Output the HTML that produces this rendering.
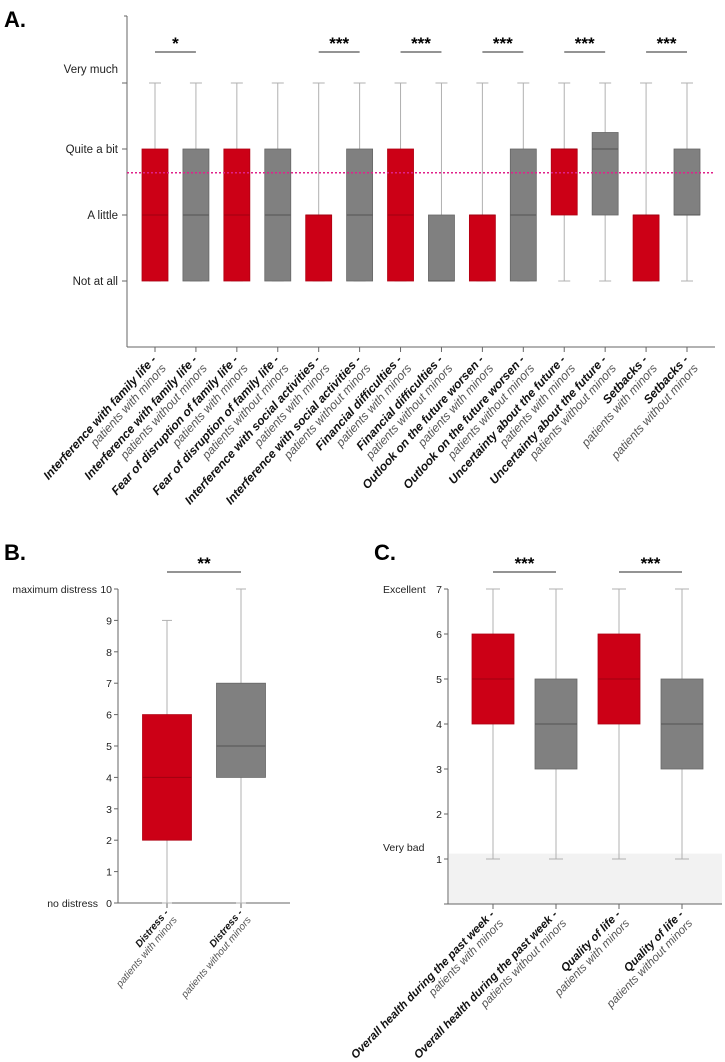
<!DOCTYPE html>
<html><head><meta charset="utf-8"><style>
html,body{margin:0;padding:0;background:#fff;}
svg{display:block;font-family:"Liberation Sans",sans-serif;}
</style></head><body>
<svg id="fig" width="725" height="1062" viewBox="0 0 725 1062" xmlns="http://www.w3.org/2000/svg">
<text x="4" y="27" font-size="22" font-weight="bold">A.</text>
<text x="4" y="560" font-size="22" font-weight="bold">B.</text>
<text x="374" y="560" font-size="22" font-weight="bold">C.</text>
</svg>
<script>
// ---- Panel A data ----
const catsA = ["Interference with family life -","Interference with family life -","Fear of disruption of family life -","Fear of disruption of family life -","Interference with social activities -","Interference with social activities -","Financial difficulties -","Financial difficulties -","Outlook on the future worsen -","Outlook on the future worsen -","Uncertainty about the future -","Uncertainty about the future -","Setbacks -","Setbacks -"];
const groupsA = ["patients with minors","patients without minors","patients with minors","patients without minors","patients with minors","patients without minors","patients with minors","patients without minors","patients with minors","patients without minors","patients with minors","patients without minors","patients with minors","patients without minors"];
const minA = [0,0,0,0,0,0,0,0,0,0,0,0,0,0];
const q1A  = [0,0,0,0,0,0,0,0,0,0,1,1,0,1];
const medA = [1,1,1,1,1,1,1,0,1,1,2,2,1,1];
const q3A  = [2,2,2,2,1,2,2,1,1,2,2,2.25,1,2];
const maxA = [3,3,3,3,3,3,3,3,3,3,3,3,3,3];
const tickLabelsA = ["Not at all","A little","Quite a bit","Very much"];
const refLineA = 1.64;
const sigPairsA = [0,4,6,8,10,12];
const sigTextA = ["*","***","***","***","***","***"];
// ---- Panel B data ----
const catsB = ["Distress -","Distress -"];
const groupsB = ["patients with minors","patients without minors"];
const minB=[0,0], q1B=[2,4], medB=[4,5], q3B=[6,7], maxB=[9,10];
const ticksB=[0,1,2,3,4,5,6,7,8,9,10];
// ---- Panel C data ----
const catsC = ["Overall health during the past week -","Overall health during the past week -","Quality of life -","Quality of life -"];
const groupsC = ["patients with minors","patients without minors","patients with minors","patients without minors"];
const minC=[1,1,1,1], q1C=[4,3,4,3], medC=[5,4,5,4], q3C=[6,5,6,5], maxC=[7,7,7,7];
const ticksC=[1,2,3,4,5,6,7];
const sigPairsC=[0,2];

const svg=document.getElementById('fig');
const NS="http://www.w3.org/2000/svg";
function mk(tag,attrs,parent){const e=document.createElementNS(NS,tag);for(const k in attrs)e.setAttribute(k,attrs[k]);(parent||svg).appendChild(e);return e;}
const RED="#cc0016", GRAY="#808080";

function drawBoxes(name,x,y,w,mins,q1s,meds,q3s,maxs,capW){
  for(let i=0;i<q1s.length;i++){
    const cx=x(i), col=(i%2===0)?RED:GRAY;
    const g=mk('g',{});
    
    
    mk('line',{x1:cx,x2:cx,y1:y(maxs[i]),y2:y(mins[i]),stroke:'#b0b0b0','stroke-width':1},g);
    mk('line',{x1:cx-capW/2,x2:cx+capW/2,y1:y(maxs[i]),y2:y(maxs[i]),stroke:'#b0b0b0','stroke-width':1},g);
    mk('line',{x1:cx-capW/2,x2:cx+capW/2,y1:y(mins[i]),y2:y(mins[i]),stroke:'#b0b0b0','stroke-width':1},g);
    mk('rect',{x:cx-w/2,y:y(q3s[i]),width:w,height:Math.max(0.5,y(q1s[i])-y(q3s[i])),fill:col,stroke:(i%2===0)?'#b00012':'#666','stroke-width':0.8},g);
    mk('line',{x1:cx-w/2,x2:cx+w/2,y1:y(meds[i]),y2:y(meds[i]),stroke:(i%2===0)?'#a00010':'#555','stroke-width':1},g);
  }
}
function drawLabels(name,x,yTop,cats,groups,fs,ang){
  for(let i=0;i<cats.length;i++){
    const cx=x(i)+2, cy=yTop;
    const t=mk('text',{transform:`translate(${cx},${cy}) rotate(${ang})`,'text-anchor':'end','font-size':fs});
    
    
    const a=mk('tspan',{x:0,dy:0,'font-weight':'bold','font-style':'italic',fill:'#111'},t);a.textContent=cats[i];
    const b=mk('tspan',{x:0,dy:fs+1,'font-style':'italic',fill:'#555'},t);b.textContent=groups[i];
  }
}
function sigBar(name,x1,x2,y,txt){
  const g=mk('g',{});
  
  
  mk('line',{x1:x1,x2:x2,y1:y,y2:y,stroke:'#555','stroke-width':1.2},g);
  const t=mk('text',{x:(x1+x2)/2,y:y-3,'text-anchor':'middle','font-size':17,'font-weight':'bold'},g);t.textContent=txt;
}

// ---- Panel A ----
(function(){
  const x=i=>155+i*(687-155)/13;
  const y=v=>281-v*66;
  const ax=mk('g',{});
  
  
  mk('line',{x1:127,x2:127,y1:16,y2:347,stroke:'#666','stroke-width':1},ax);
  mk('line',{x1:127,x2:715,y1:347,y2:347,stroke:'#666','stroke-width':1},ax);
  mk('line',{x1:124,x2:127,y1:16,y2:16,stroke:'#666'},ax);
  for(let k=0;k<tickLabelsA.length;k++){
    mk('line',{x1:122,x2:127,y1:y(k),y2:y(k),stroke:'#666'},ax);
    const ty=(k===3)?y(k)-10:y(k)+4;
    const t=mk('text',{x:118,y:ty,'text-anchor':'end','font-size':11.5,fill:'#222'},ax);
    
    
    t.textContent=tickLabelsA[k];
  }
  for(let i=0;i<catsA.length;i++) mk('line',{x1:x(i),x2:x(i),y1:347,y2:352,stroke:'#666'},ax);
  drawBoxes('panel-a',x,y,26,minA,q1A,medA,q3A,maxA,12);
  const rl=mk('line',{x1:127,x2:715,y1:y(refLineA),y2:y(refLineA),stroke:'#e0208a','stroke-width':1.6,'stroke-dasharray':'2,2'});
  
  
  sigPairsA.forEach((p,k)=>sigBar('panel-a-significance-'+(k+1),x(p),x(p+1),52,sigTextA[k]));
  drawLabels('panel-a-x',x,360,catsA,groupsA,12,-48);
})();

// ---- Panel B ----
(function(){
  const x=i=>167+i*74;
  const y=v=>903-v*31.4;
  const ax=mk('g',{});
  
  
  mk('line',{x1:118,x2:118,y1:y(10),y2:903,stroke:'#666'},ax);
  mk('line',{x1:114,x2:290,y1:903,y2:903,stroke:'#666'},ax);
  ticksB.forEach(v=>{
    mk('line',{x1:114,x2:118,y1:y(v),y2:y(v),stroke:'#666'},ax);
    const t=mk('text',{x:112,y:y(v)+4,'text-anchor':'end','font-size':10.5,fill:'#222'},ax);
    t.textContent=v;
  });
  const t1=mk('text',{x:97,y:y(10)+4,'text-anchor':'end','font-size':10.5,fill:'#222'},ax);t1.textContent='maximum distress';
  const t2=mk('text',{x:98,y:y(0)+4,'text-anchor':'end','font-size':10.5,fill:'#222'},ax);t2.textContent='no distress';
  for(let i=0;i<catsB.length;i++) mk('line',{x1:x(i),x2:x(i),y1:903,y2:908,stroke:'#666'},ax);
  drawBoxes('panel-b',x,y,49,minB,q1B,medB,q3B,maxB,10);
  sigBar('panel-b-significance',x(0),x(1),572,'**');
  drawLabels('panel-b-x',x,913,catsB,groupsB,10,-50);
})();

// ---- Panel C ----
(function(){
  const x=i=>493+i*63;
  const y=v=>904-v*45;
  const bg=mk('rect',{x:449,y:y(1.12),width:273,height:904-y(1.12),fill:'#f2f2f2'});
  
  
  const ax=mk('g',{});
  
  
  mk('line',{x1:448,x2:448,y1:y(7),y2:904,stroke:'#666'},ax);
  mk('line',{x1:444,x2:722,y1:904,y2:904,stroke:'#666'},ax);
  ticksC.forEach(v=>{
    mk('line',{x1:444,x2:448,y1:y(v),y2:y(v),stroke:'#666'},ax);
    const t=mk('text',{x:442,y:y(v)+4,'text-anchor':'end','font-size':10.5,fill:'#222'},ax);
    t.textContent=v;
  });
  const t1=mk('text',{x:383,y:y(7)+4,'font-size':10.5,fill:'#222'},ax);t1.textContent='Excellent';
  const t2=mk('text',{x:383,y:y(1)-8,'font-size':10.5,fill:'#222'},ax);t2.textContent='Very bad';
  for(let i=0;i<catsC.length;i++) mk('line',{x1:x(i),x2:x(i),y1:904,y2:909,stroke:'#666'},ax);
  drawBoxes('panel-c',x,y,42,minC,q1C,medC,q3C,maxC,14);
  sigPairsC.forEach((p,k)=>sigBar('panel-c-significance-'+(k+1),x(p),x(p+1),572,'***'));
  drawLabels('panel-c-x',x,915,catsC,groupsC,11.5,-46);
})();
</script>
</body></html>
